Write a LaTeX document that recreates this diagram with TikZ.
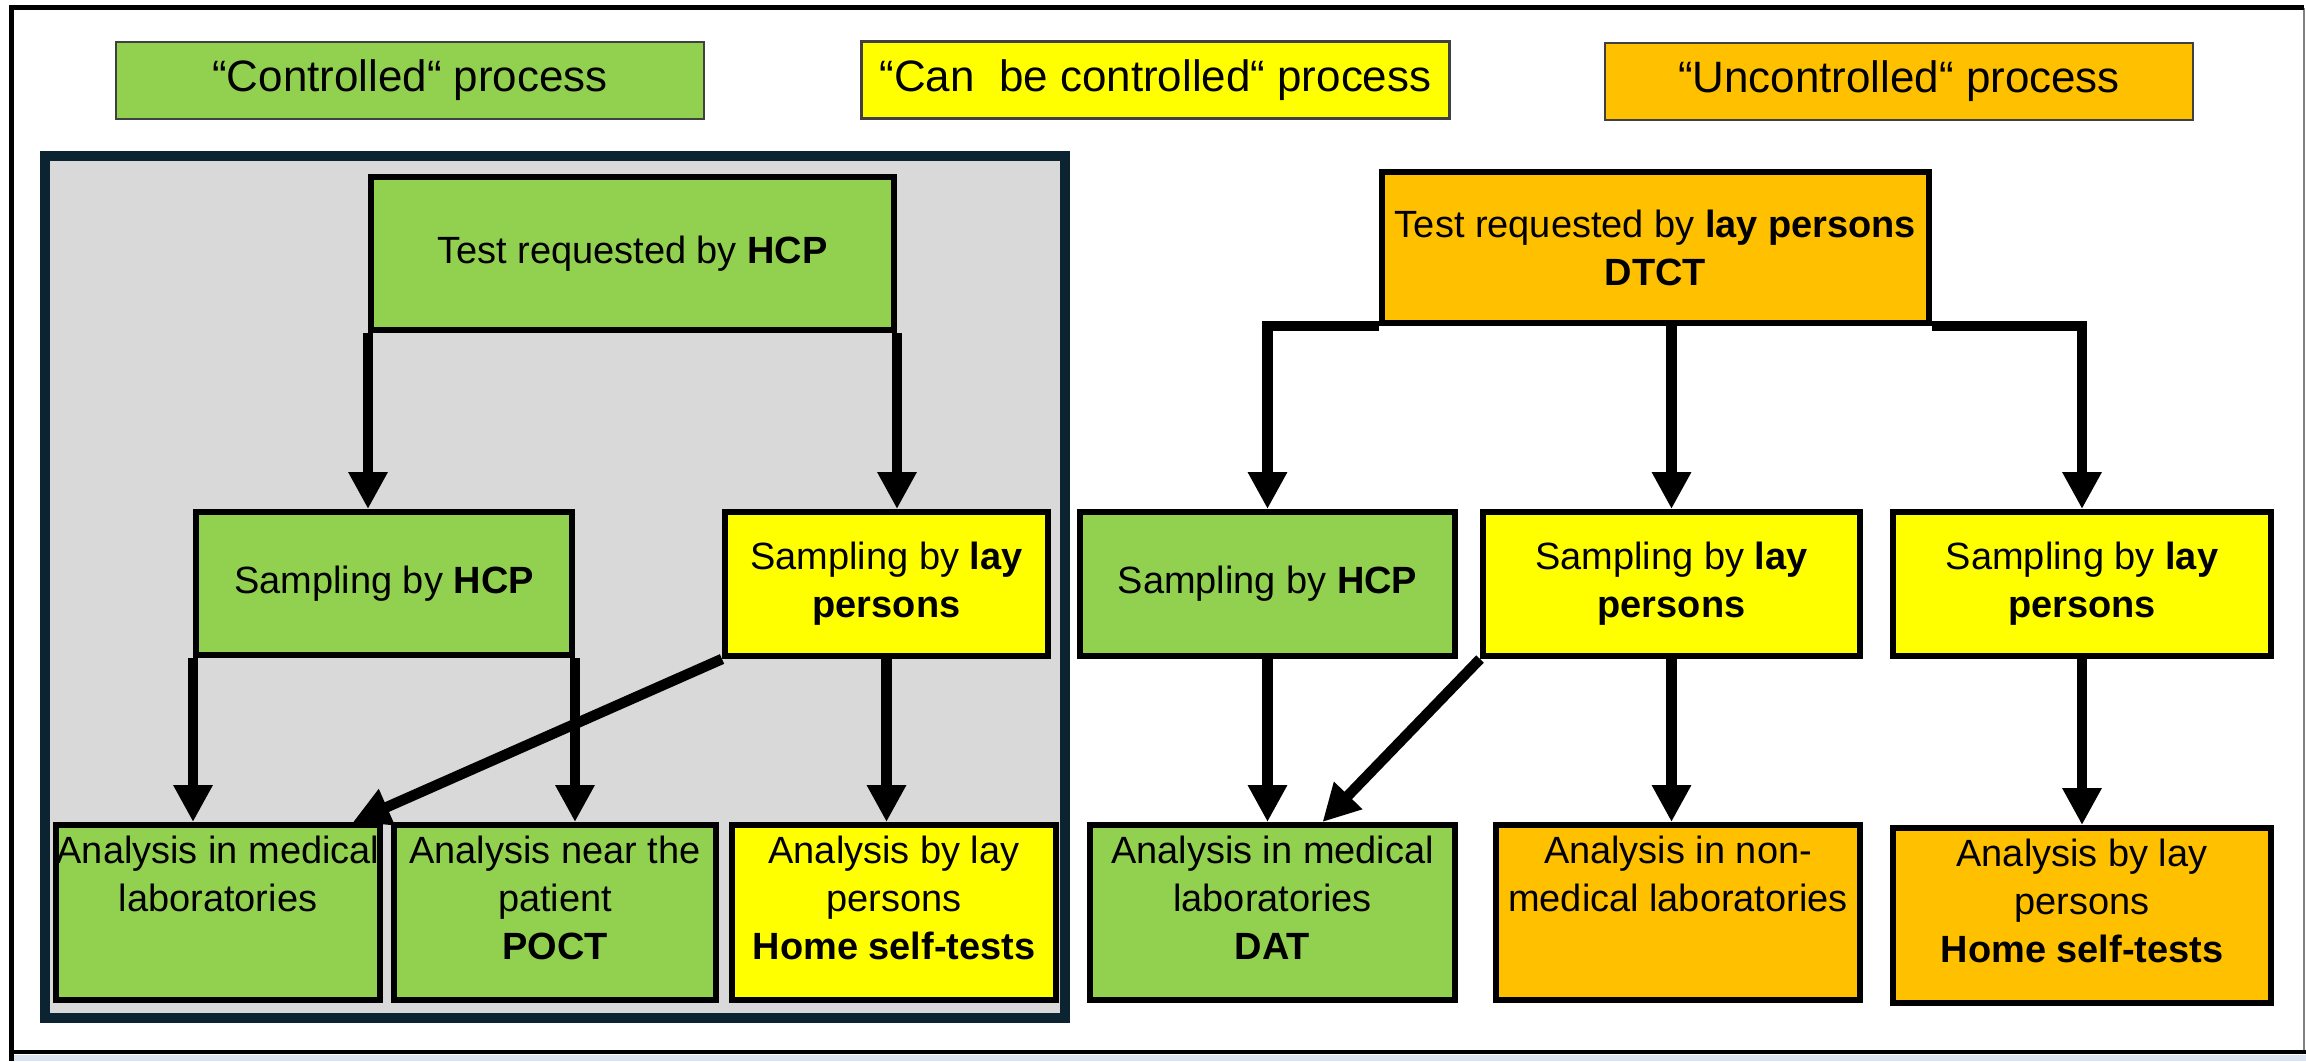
\documentclass[tikz,border=0pt]{standalone}
\usepackage{fontspec}
\setmainfont{Liberation Sans}
\usepackage{tikz}
\usetikzlibrary{arrows.meta, calc}
\definecolor{ctlGreen}{HTML}{92D050}
\definecolor{canYellow}{HTML}{FFFF00}
\definecolor{uncOrange}{HTML}{FFC000}
\definecolor{panelGray}{HTML}{D9D9D9}
\definecolor{panelNavy}{HTML}{0C2432}
\definecolor{stripBlue}{HTML}{DAE3F3}
\newcommand{\boxfont}{\fontsize{10.8}{13.7}\selectfont}

\begin{document}
\begin{tikzpicture}[
  hdr/.style={draw=black!75, line width=0.6pt, minimum width=5.88cm, minimum height=0.77cm, inner sep=0pt, font=\fontsize{12.5}{15}\selectfont},
  stage/.style={draw=black, line width=1.7pt, align=center, inner sep=0pt, font=\boxfont},
  anatext/.style={anchor=north, align=center, inner sep=0pt, yshift=-0.13cm, font=\boxfont},
  flow/.style={line width=3pt, -{Triangle[length=0.37cm, width=0.37cm]}}]
  \useasboundingbox (0,0) rectangle (23.06,-10.61);
  % frame and next panel strip
  \fill[stripBlue] (0.14,-10.55) rectangle (23.06,-10.61);
  \draw[gray, line width=0.5pt] (23.04,-0.075) -- (23.04,-10.52);
  \draw[line width=1.4pt] (23.04,-0.075) -- (0.115,-0.075) -- (0.115,-10.61);
  \draw[line width=1.4pt] (0.115,-10.52) -- (23.06,-10.52);

  % headers
  \node[hdr, fill=ctlGreen] (hdrCtl) at (4.10,-0.805) {“Controlled“ process};
  \node[hdr, fill=canYellow] (hdrCan) at (11.555,-0.80) {“Can\ \ be controlled“ process};
  \node[hdr, fill=uncOrange] (hdrUnc) at (18.99,-0.815) {“Uncontrolled“ process};

  % controlled panel
  \filldraw[fill=panelGray, draw=panelNavy, line width=2.85pt] (0.45,-1.56) rectangle (10.65,-10.18);

  \node[stage, fill=ctlGreen, minimum width=5.23cm, minimum height=1.53cm] (reqHCP) at (6.325,-2.535) {Test requested by \textbf{HCP}};
  \node[stage, fill=uncOrange, minimum width=5.47cm, minimum height=1.51cm] (reqLay) at (16.555,-2.475) {Test requested by \textbf{lay persons}\\\textbf{DTCT}};

  \node[stage, fill=ctlGreen, minimum width=3.76cm, minimum height=1.43cm] (sampHCP1) at (3.84,-5.835) {Sampling by \textbf{HCP}};
  \node[stage, fill=canYellow, minimum width=3.23cm, minimum height=1.44cm] (sampLay1) at (8.865,-5.84) {Sampling by \textbf{lay}\\\textbf{persons}};
  \node[stage, fill=ctlGreen, minimum width=3.75cm, minimum height=1.44cm] (sampHCP2) at (12.675,-5.84) {Sampling by \textbf{HCP}};
  \node[stage, fill=canYellow, minimum width=3.77cm, minimum height=1.44cm] (sampLay2) at (16.715,-5.84) {Sampling by \textbf{lay}\\\textbf{persons}};
  \node[stage, fill=canYellow, minimum width=3.78cm, minimum height=1.44cm] (sampLay3) at (20.82,-5.84) {Sampling by \textbf{lay}\\\textbf{persons}};

  \node[stage, fill=ctlGreen, minimum width=3.24cm, minimum height=1.75cm,
    label={[anatext]north:Analysis in medical\\laboratories}] (ana1) at (2.18,-9.125) {};
  \node[stage, fill=ctlGreen, minimum width=3.22cm, minimum height=1.75cm,
    label={[anatext]north:Analysis near the\\patient\\\textbf{POCT}}] (ana2) at (5.55,-9.125) {};
  \node[stage, fill=canYellow, minimum width=3.24cm, minimum height=1.75cm,
    label={[anatext]north:Analysis by lay\\persons\\\textbf{Home self-tests}}] (ana3) at (8.94,-9.125) {};
  \node[stage, fill=ctlGreen, minimum width=3.65cm, minimum height=1.75cm,
    label={[anatext]north:Analysis in medical\\laboratories\\\textbf{DAT}}] (ana4) at (12.725,-9.125) {};
  \node[stage, fill=uncOrange, minimum width=3.64cm, minimum height=1.75cm,
    label={[anatext]north:Analysis in non-\\medical laboratories}] (ana5) at (16.78,-9.125) {};
  \node[stage, fill=uncOrange, minimum width=3.78cm, minimum height=1.75cm,
    label={[anatext]north:Analysis by lay\\persons\\\textbf{Home self-tests}}] (ana6) at (20.82,-9.155) {};

  % flows
  \draw[flow] (reqHCP.south west) -- (reqHCP.south west |- sampHCP1.north);
  \draw[flow] (reqHCP.south east) -- (reqHCP.south east |- sampLay1.north);
  \draw[flow] (reqLay.south west) -| (sampHCP2.north);
  \draw[flow] (sampLay2.north |- reqLay.south) -- (sampLay2.north);
  \draw[flow] (reqLay.south east) -| (sampLay3.north);

  \draw[flow] (sampHCP1.south west) -- (sampHCP1.south west |- ana1.north);
  \draw[flow] (sampHCP1.south east) -- (sampHCP1.south east |- ana2.north);
  \draw[flow] (sampLay1.south west) -- ($(ana1.north east)+(-0.3,0)$);
  \draw[flow] (sampLay1.south) -- (sampLay1.south |- ana3.north);
  \draw[flow] (sampHCP2.south) -- (sampHCP2.south |- ana4.north);
  \draw[flow] (sampLay2.south west) -- ($(ana4.north)+(0.5,0)$);
  \draw[flow] (sampLay2.south) -- (sampLay2.south |- ana5.north);
  \draw[flow] (sampLay3.south) -- (sampLay3.south |- ana6.north);
\end{tikzpicture}
\end{document}
